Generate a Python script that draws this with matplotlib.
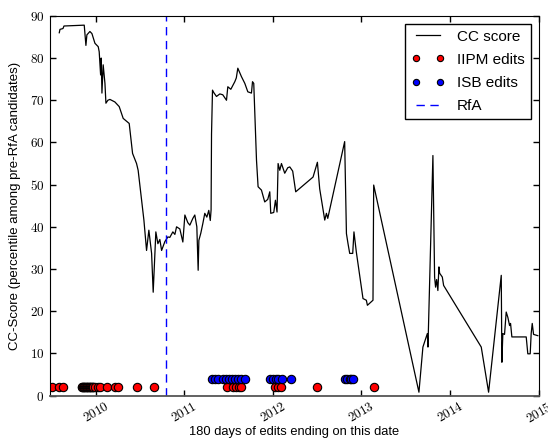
import matplotlib
matplotlib.use("Agg")
import matplotlib.pyplot as plt

# CC score trace (decimal year, percentile)
cc_year = [2009.586, 2009.594, 2009.628, 2009.639, 2009.868, 2009.887, 2009.898, 2009.932,
           2009.955, 2009.989, 2010.026, 2010.037, 2010.053, 2010.060, 2010.068, 2010.082,
           2010.102, 2010.113, 2010.135, 2010.158, 2010.214, 2010.263, 2010.308, 2010.376,
           2010.414, 2010.459, 2010.477, 2010.516, 2010.542, 2010.572, 2010.598, 2010.629,
           2010.647, 2010.677, 2010.700, 2010.722, 2010.742, 2010.779, 2010.813, 2010.835,
           2010.869, 2010.892, 2010.911, 2010.948, 2010.982, 2011.005, 2011.038, 2011.061,
           2011.095, 2011.117, 2011.140, 2011.155, 2011.163, 2011.185, 2011.208, 2011.230,
           2011.253, 2011.275, 2011.292, 2011.301, 2011.306, 2011.317, 2011.332, 2011.362,
           2011.400, 2011.433, 2011.475, 2011.490, 2011.524, 2011.569, 2011.586, 2011.603,
           2011.644, 2011.682, 2011.716, 2011.757, 2011.769, 2011.783, 2011.814, 2011.832,
           2011.870, 2011.907, 2011.941, 2011.964, 2011.975, 2012.009, 2012.028, 2012.046,
           2012.058, 2012.077, 2012.096, 2012.133, 2012.167, 2012.190, 2012.223, 2012.257,
           2012.453, 2012.502, 2012.528, 2012.585, 2012.604, 2012.619, 2012.810, 2012.830,
           2012.848, 2012.867, 2012.901, 2012.915, 2012.942, 2013.017, 2013.055, 2013.067,
           2013.130, 2013.138, 2013.649, 2013.694, 2013.713, 2013.744, 2013.751, 2013.807,
           2013.826, 2013.837, 2013.849, 2013.863, 2013.875, 2013.883, 2013.913, 2013.928,
           2014.353, 2014.436, 2014.579, 2014.586, 2014.597, 2014.616, 2014.635, 2014.654,
           2014.673, 2014.684, 2014.699, 2014.861, 2014.879, 2014.906, 2014.917, 2014.929,
           2014.944, 2014.992]
cc_score = [86.0, 86.8, 87.0, 87.6, 87.8, 83.0, 85.5, 86.3,
            85.8, 83.5, 82.7, 81.5, 76.0, 80.0, 71.7, 78.4,
            74.0, 69.3, 70.0, 70.2, 69.6, 68.5, 65.7, 64.5,
            57.4, 55.0, 53.4, 46.3, 41.6, 34.4, 39.2, 33.7,
            24.5, 38.8, 36.0, 37.0, 34.4, 36.5, 37.6, 37.5,
            38.8, 38.2, 40.0, 39.5, 36.4, 42.8, 41.0, 40.4,
            42.0, 42.8, 40.0, 29.7, 36.8, 38.5, 40.8, 43.2,
            42.3, 43.9, 41.5, 44.0, 62.0, 72.4, 71.8, 70.9,
            71.5, 71.3, 70.0, 73.2, 72.6, 74.4, 75.3, 77.6,
            75.6, 74.0, 72.0, 71.7, 74.4, 74.0, 55.8, 49.5,
            48.7, 45.9, 46.5, 48.3, 43.2, 43.4, 46.3, 43.5,
            55.0, 53.4, 55.0, 52.7, 54.0, 54.2, 53.2, 48.3,
            51.8, 55.3, 49.0, 41.6, 43.2, 42.0, 60.2, 38.4,
            36.0, 33.7, 33.7, 38.8, 34.0, 23.0, 22.6, 21.4,
            22.6, 49.9, 0.8, 11.5, 12.7, 14.7, 11.5, 56.9,
            28.1, 25.7, 27.5, 24.9, 30.5, 29.0, 28.1, 26.1,
            11.5, 0.8, 28.5, 7.9, 14.7, 14.5, 19.8, 18.5,
            16.6, 17.1, 13.9, 13.9, 9.9, 9.9, 14.7, 17.1,
            14.5, 14.2]

# edit dates (decimal year)
iipm_year = [2009.500, 2009.586, 2009.624, 2009.839, 2009.847, 2009.853, 2009.862, 2009.870,
             2009.878, 2009.887, 2009.895, 2009.904, 2009.912, 2009.921, 2009.930, 2009.938,
             2009.946, 2009.955, 2009.964, 2009.972, 2009.989, 2010.026, 2010.045, 2010.121,
             2010.214, 2010.252, 2010.468, 2010.658, 2011.482, 2011.550, 2011.588, 2011.617,
             2011.644, 2012.020, 2012.058, 2012.096, 2012.502, 2013.141]
isb_year = [2011.306, 2011.343, 2011.380, 2011.437, 2011.475, 2011.504, 2011.532, 2011.569,
            2011.606, 2011.644, 2011.682, 2011.964, 2012.001, 2012.032, 2012.058, 2012.107,
            2012.201, 2012.810, 2012.836, 2012.867, 2012.886, 2012.904]
iipm_level = 2
isb_level = 4
rfa_year = 2010.790

year_ticks = [2010, 2011, 2012, 2013, 2014, 2015]
score_ticks = [0, 10, 20, 30, 40, 50, 60, 70, 80, 90]

plt.rcParams['font.family'] = ['Liberation Sans', 'DejaVu Sans']
plt.rcParams['mathtext.fontset'] = 'cm'

fig = plt.figure(figsize=(5.48, 4.41), dpi=100)
ax = fig.add_axes([0.0912, 0.103, 0.8915, 0.861])

ax.plot(cc_year, cc_score, color='black', lw=0.9, label='CC score')
ax.plot(iipm_year, [iipm_level] * len(iipm_year), 'o', color='red', mec='black',
        mew=0.8, ms=6, label='IIPM edits')
ax.plot(isb_year, [isb_level] * len(isb_year), 'o', color='blue', mec='black',
        mew=0.8, ms=6, label='ISB edits')
ax.axvline(rfa_year, color='blue', ls=(0, (6, 4)), lw=1.0, label='RfA')

ax.set_xlim(2009.481, 2015.0)
ax.set_ylim(0, 90)
ax.set_xticks(year_ticks)
ax.set_xticklabels(['$%d$' % y for y in year_ticks], rotation=30, fontsize=9.5)
ax.set_yticks(score_ticks)
ax.set_yticklabels(['$%d$' % s for s in score_ticks], fontsize=9.5)
ax.tick_params(direction='in', top=True, right=True, length=4, width=1, color='black')
ax.tick_params(axis='y', pad=4)
ax.tick_params(axis='x', pad=3)
ax.spines['bottom'].set_color('#555555')
ax.spines['bottom'].set_linewidth(1.3)

ax.set_xlabel('180 days of edits ending on this date', fontsize=9.3, labelpad=0)
ax.set_ylabel('CC-Score (percentile among pre-RfA candidates)', fontsize=9.5, labelpad=6)

leg = ax.legend(loc='upper right', numpoints=2, markerscale=0.75, fontsize=11,
                fancybox=False, framealpha=1, borderaxespad=0.5, handlelength=2.2,
                labelspacing=0.6)
leg.get_frame().set_edgecolor('black')
leg.get_frame().set_linewidth(1.0)

fig.savefig('out.png', dpi=100)
